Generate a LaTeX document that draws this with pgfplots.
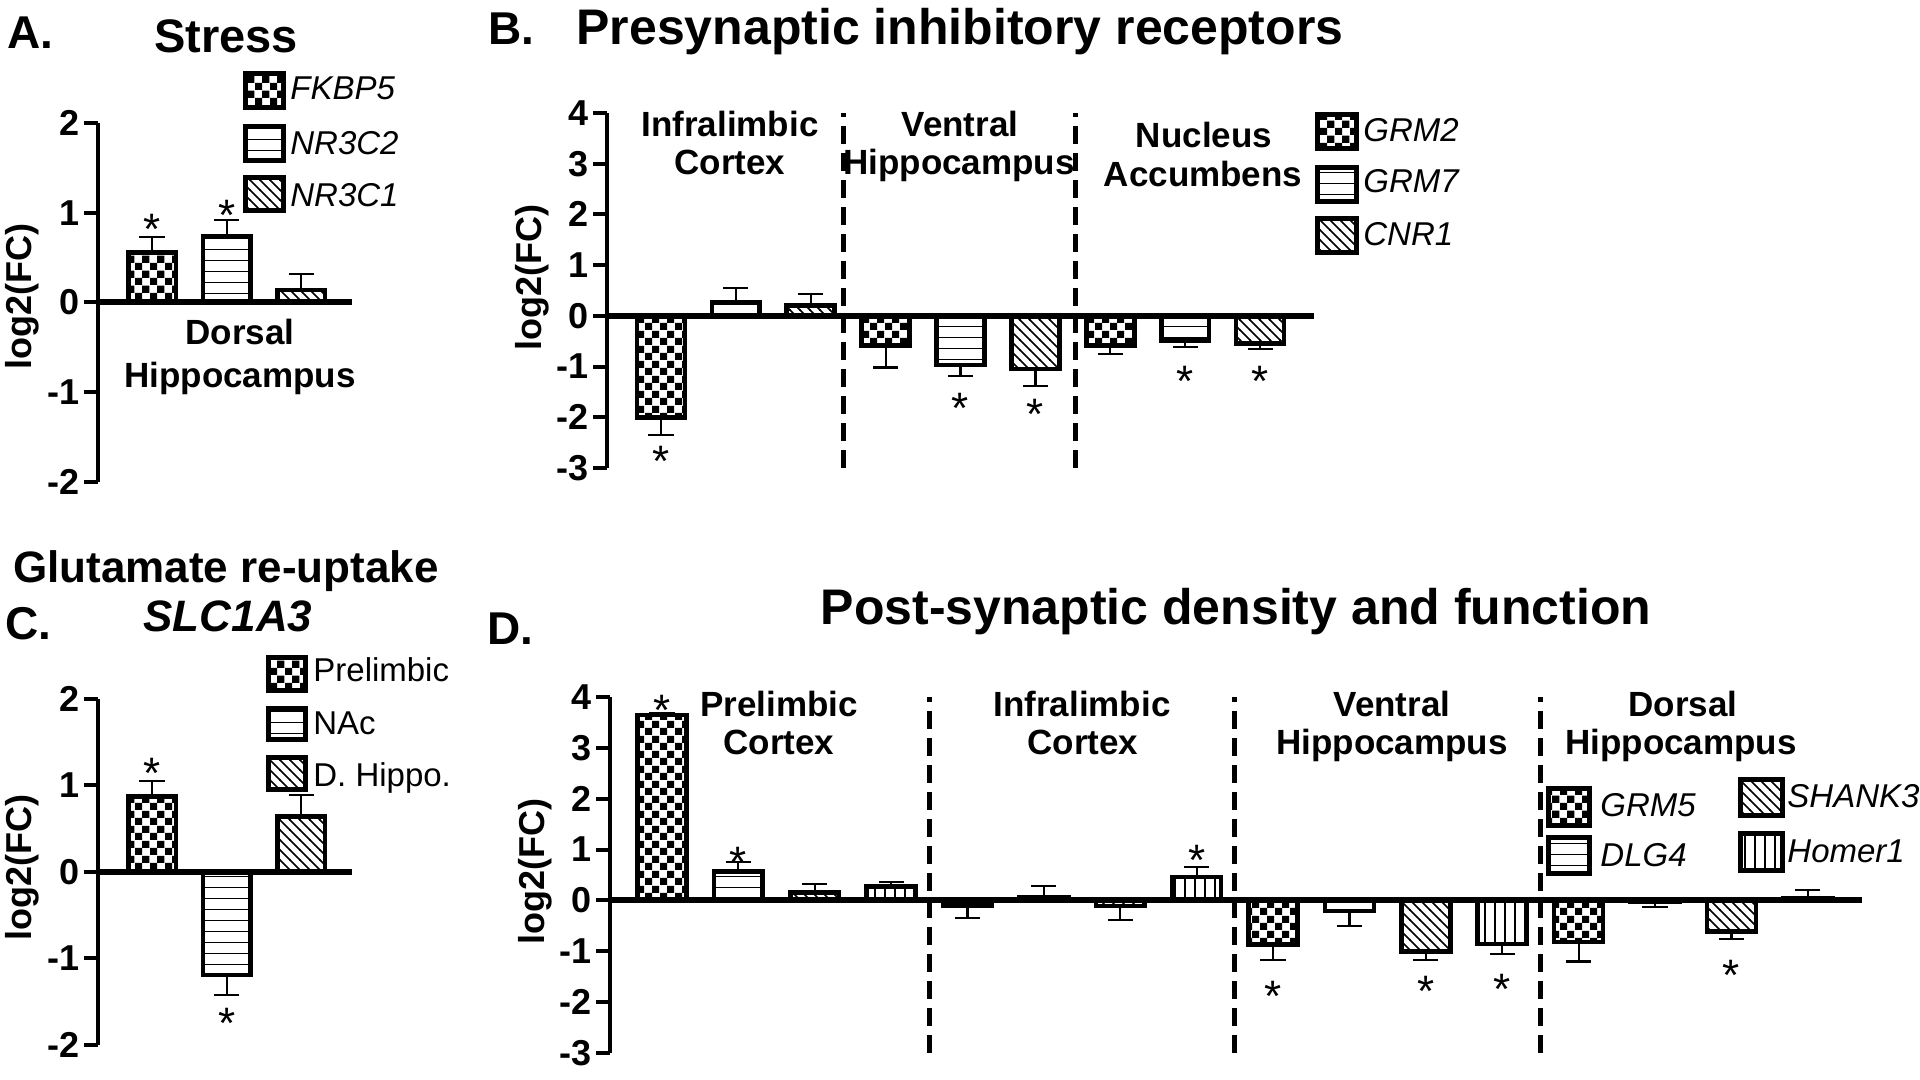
\documentclass[border=0pt]{standalone}
\usepackage{fontspec}
\setmainfont{Liberation Sans}
\usepackage{pgfplots}
\pgfplotsset{compat=1.18}
\usetikzlibrary{patterns}
\newcommand\fs[1]{\fontsize{#1}{#1}\selectfont}

\pgfdeclarepatternformonly{chk}{\pgfqpoint{0pt}{0pt}}{\pgfqpoint{7.5pt}{7.5pt}}{\pgfqpoint{7.5pt}{7.5pt}}{%
  \pgfpathrectangle{\pgfqpoint{0pt}{0pt}}{\pgfqpoint{3.75pt}{3.75pt}}%
  \pgfpathrectangle{\pgfqpoint{3.75pt}{3.75pt}}{\pgfqpoint{3.75pt}{3.75pt}}%
  \pgfusepath{fill}}
\pgfdeclarepatternformonly{hln}{\pgfqpoint{-1pt}{0pt}}{\pgfqpoint{6pt}{5.5pt}}{\pgfqpoint{5pt}{5.5pt}}{%
  \pgfsetlinewidth{0.8pt}%
  \pgfpathmoveto{\pgfqpoint{-1pt}{2.75pt}}\pgfpathlineto{\pgfqpoint{6pt}{2.75pt}}\pgfusepath{stroke}}
\pgfdeclarepatternformonly{vln}{\pgfqpoint{0pt}{-1pt}}{\pgfqpoint{5pt}{6pt}}{\pgfqpoint{5pt}{5pt}}{%
  \pgfsetlinewidth{0.8pt}%
  \pgfpathmoveto{\pgfqpoint{2.5pt}{-1pt}}\pgfpathlineto{\pgfqpoint{2.5pt}{6pt}}\pgfusepath{stroke}}
\pgfdeclarepatternformonly{dln}{\pgfqpoint{-1pt}{-1pt}}{\pgfqpoint{6pt}{6pt}}{\pgfqpoint{5pt}{5pt}}{%
  \pgfsetlinewidth{0.8pt}%
  \pgfpathmoveto{\pgfqpoint{-0.2pt}{5.2pt}}\pgfpathlineto{\pgfqpoint{5.2pt}{-0.2pt}}\pgfusepath{stroke}}

\pgfplotsset{
  panel/.style={scale only axis, anchor=south west,
    axis x line*=middle, axis y line*=left, xtick=\empty,
    axis line style={black},
    every inner x axis line/.append style={line width=3pt},
    every outer y axis line/.append style={line width=2.2pt},
    every major tick/.append style={line width=2pt, black},
    major tick length=7pt, tick align=outside,
    yticklabel style={font=\bfseries\fs{18}, inner sep=2pt},
    clip=false},
  gbar/.style={ybar, bar width=0.64, bar shift=0pt, draw=black, line width=2.3pt,
    error bars/y dir=both, error bars/y explicit,
    error bars/error bar style={line width=1.1pt, black, solid},
    error bars/error mark options={line width=1.1pt, mark size=6.3pt, black, rotate=90}},
  sep/.style={black, line width=2.5pt, dash pattern=on 9pt off 4.5pt}
}
\tikzset{star/.style={font=\fs{22}, anchor=north, inner sep=0pt},
  sw/.style={line width=2.6pt, draw=black}}

\begin{document}
\begin{tikzpicture}
\path[use as bounding box] (0pt,0pt) rectangle (960pt,540pt);

% ---------------- Panel A ----------------
\begin{axis}[panel, at={(49pt,299pt)}, width=127pt, height=179.5pt,
  xmin=0.275, xmax=3.68, ymin=-2, ymax=2,
  ytick={-2,-1,0,1,2}, yticklabels={-2,-1,0,1,2}]
\addplot[pattern=chk, gbar] table[x=x,y=y,y error plus=ep,y error minus=em]{
x y ep em
1 0.56 0.17 0
};
\addplot[pattern=hln, gbar] table[x=x,y=y,y error plus=ep,y error minus=em]{
x y ep em
2 0.74 0.18 0
};
\addplot[pattern=dln, gbar] table[x=x,y=y,y error plus=ep,y error minus=em]{
x y ep em
3 0.14 0.18 0
};
\node[star] at (axis cs:1,0.99) {*};
\node[star] at (axis cs:2,1.14) {*};
\end{axis}

% ---------------- Panel B ----------------
\begin{axis}[panel, at={(303.5pt,306pt)}, width=353.5pt, height=177.5pt,
  xmin=0.28, xmax=9.72, ymin=-3, ymax=4,
  ytick={-3,-2,-1,0,1,2,3,4}, yticklabels={-3,-2,-1,0,1,2,3,4}]
\addplot[sep] coordinates {(3.44,-3) (3.44,4)};
\addplot[sep] coordinates {(6.54,-3) (6.54,4)};
\addplot[pattern=chk, gbar] table[x=x,y=y,y error plus=ep,y error minus=em]{
x y ep em
1 -2.00 0 0.35
4 -0.59 0 0.43
7 -0.58 0 0.17
};
\addplot[pattern=hln, gbar] table[x=x,y=y,y error plus=ep,y error minus=em]{
x y ep em
2 0.26 0.29 0
5 -0.97 0 0.21
8 -0.49 0 0.13
};
\addplot[pattern=dln, gbar] table[x=x,y=y,y error plus=ep,y error minus=em]{
x y ep em
3 0.20 0.23 0
6 -1.05 0 0.33
9 -0.55 0 0.10
};
\node[star] at (axis cs:1,-2.56) {*};
\node[star] at (axis cs:5,-1.52) {*};
\node[star] at (axis cs:6,-1.64) {*};
\node[star] at (axis cs:8,-0.99) {*};
\node[star] at (axis cs:9,-0.99) {*};
\end{axis}

% ---------------- Panel C ----------------
\begin{axis}[panel, at={(49pt,17.5pt)}, width=127pt, height=173pt,
  xmin=0.275, xmax=3.68, ymin=-2, ymax=2,
  ytick={-2,-1,0,1,2}, yticklabels={-2,-1,0,1,2}]
\addplot[pattern=chk, gbar] table[x=x,y=y,y error plus=ep,y error minus=em]{
x y ep em
1 0.87 0.18 0
};
\addplot[pattern=hln, gbar] table[x=x,y=y,y error plus=ep,y error minus=em]{
x y ep em
2 -1.19 0 0.23
};
\addplot[pattern=dln, gbar] table[x=x,y=y,y error plus=ep,y error minus=em]{
x y ep em
3 0.64 0.25 0
};
\node[star] at (axis cs:1,1.32) {*};
\node[star] at (axis cs:2,-1.57) {*};
\end{axis}

% ---------------- Panel D ----------------
\begin{axis}[panel, at={(305pt,13.5pt)}, width=626pt, height=178pt,
  xmin=0.32, xmax=16.71, ymin=-3, ymax=4,
  ytick={-3,-2,-1,0,1,2,3,4}, yticklabels={-3,-2,-1,0,1,2,3,4}]
\addplot[sep] coordinates {(4.5,-3) (4.5,4)};
\addplot[sep] coordinates {(8.5,-3) (8.5,4)};
\addplot[sep] coordinates {(12.5,-3) (12.5,4)};
\addplot[pattern=chk, gbar] table[x=x,y=y,y error plus=ep,y error minus=em]{
x y ep em
1 3.65 0.04 0
5 -0.10 0 0.25
9 -0.87 0 0.30
13 -0.82 0 0.38
};
\addplot[pattern=hln, gbar] table[x=x,y=y,y error plus=ep,y error minus=em]{
x y ep em
2 0.57 0.18 0
6 0.06 0.23 0
10 -0.21 0 0.29
14 -0.02 0 0.11
};
\addplot[pattern=dln, gbar] table[x=x,y=y,y error plus=ep,y error minus=em]{
x y ep em
3 0.16 0.17 0
7 -0.11 0 0.27
11 -1.00 0 0.17
15 -0.61 0 0.15
};
\addplot[pattern=vln, gbar] table[x=x,y=y,y error plus=ep,y error minus=em]{
x y ep em
4 0.27 0.10 0
8 0.46 0.19 0
12 -0.86 0 0.19
16 0.05 0.16 0
};
\node[star] at (axis cs:1,4.04) {*};
\node[star] at (axis cs:2,1.06) {*};
\node[star] at (axis cs:8,1.10) {*};
\node[star] at (axis cs:9,-1.59) {*};
\node[star] at (axis cs:11,-1.49) {*};
\node[star] at (axis cs:12,-1.45) {*};
\node[star] at (axis cs:15,-1.16) {*};
\end{axis}

% ---------------- Texts ----------------
\begin{scope}[every node/.style={inner sep=0pt}]
\node[anchor=base west, font=\bfseries\fs{23}] at (3.5pt,515.5pt) {A.};
\node[anchor=base west, font=\bfseries\fs{23}] at (244pt,517.5pt) {B.};
\node[anchor=base west, font=\bfseries\fs{23}] at (2.5pt,220pt) {C.};
\node[anchor=base west, font=\bfseries\fs{23}] at (243.5pt,217.5pt) {D.};

\node[anchor=base, font=\bfseries\fs{23.5}] at (113pt,513.5pt) {Stress};
\node[anchor=base, font=\bfseries\fs{25}] at (480pt,517.5pt) {Presynaptic inhibitory receptors};
\node[anchor=base, font=\bfseries\fs{22}] at (113pt,248.5pt) {Glutamate re-uptake};
\node[anchor=base, font=\bfseries\itshape\fs{22}] at (114pt,224pt) {SLC1A3};
\node[anchor=base, font=\bfseries\fs{25}] at (618pt,227.5pt) {Post-synaptic density and function};

% y labels
\node[rotate=90, font=\bfseries\fs{18}] at (11pt,391.5pt) {log2(FC)};
\node[rotate=90, font=\bfseries\fs{18}] at (266pt,401pt) {log2(FC)};
\node[rotate=90, font=\bfseries\fs{18}] at (11pt,106pt) {log2(FC)};
\node[rotate=90, font=\bfseries\fs{18}] at (267.5pt,104pt) {log2(FC)};

% region labels
\begin{scope}[every node/.append style={anchor=base, font=\bfseries\fs{17.5}}]
\node at (120pt,367.5pt) {Dorsal};
\node at (120pt,346pt) {Hippocampus};
\node at (365pt,471.5pt) {Infralimbic};
\node at (365pt,452.5pt) {Cortex};
\node at (480pt,471.5pt) {Ventral};
\node at (479.5pt,452.5pt) {Hippocampus};
\node at (602pt,466pt) {Nucleus};
\node at (601.5pt,446.5pt) {Accumbens};
\node at (389.5pt,181.5pt) {Prelimbic};
\node at (389.5pt,162.5pt) {Cortex};
\node at (541pt,181.5pt) {Infralimbic};
\node at (541.5pt,162.5pt) {Cortex};
\node at (696pt,181.5pt) {Ventral};
\node at (696pt,162.5pt) {Hippocampus};
\node at (841.5pt,181.5pt) {Dorsal};
\node at (840.5pt,162.5pt) {Hippocampus};
\end{scope}

% legends
\begin{scope}[every node/.append style={anchor=base west, font=\itshape\fs{16.5}}]
% A
\draw[sw, pattern=chk] (122.75pt,486.25pt) rectangle (141.75pt,503.25pt);
\draw[sw, pattern=hln] (122.75pt,459.75pt) rectangle (141.75pt,476.75pt);
\draw[sw, pattern=dln] (122.75pt,434.75pt) rectangle (141.75pt,451.25pt);
\node at (145pt,490pt) {FKBP5};
\node at (145pt,462.5pt) {NR3C2};
\node at (145pt,436.5pt) {NR3C1};
% B
\draw[sw, pattern=chk] (658.75pt,465.75pt) rectangle (678.25pt,482.75pt);
\draw[sw, pattern=hln] (658.75pt,439.25pt) rectangle (678.25pt,456.25pt);
\draw[sw, pattern=dln] (658.75pt,413.75pt) rectangle (678.25pt,430.75pt);
\node at (681.5pt,469pt) {GRM2};
\node at (681.5pt,443.5pt) {GRM7};
\node at (681.5pt,417pt) {CNR1};
% D
\draw[sw, pattern=chk] (774.25pt,127.25pt) rectangle (794.75pt,145.75pt);
\draw[sw, pattern=hln] (774.25pt,103.25pt) rectangle (794.75pt,121.25pt);
\draw[sw, pattern=dln] (870.25pt,132.25pt) rectangle (891.25pt,150.25pt);
\draw[sw, pattern=vln] (870.25pt,104.75pt) rectangle (891.25pt,123.25pt);
\node at (800pt,131.5pt) {GRM5};
\node at (800pt,106.5pt) {DLG4};
\node at (893.5pt,136pt) {SHANK3};
\node at (893.5pt,108.5pt) {Homer1};
\end{scope}
\begin{scope}[every node/.append style={anchor=base west, font=\fs{16.5}}]
% C
\draw[sw, pattern=chk] (134.25pt,194.75pt) rectangle (152.75pt,211.25pt);
\draw[sw, pattern=hln] (134.25pt,170.25pt) rectangle (152.75pt,185.75pt);
\draw[sw, pattern=dln] (134.25pt,145.25pt) rectangle (152.75pt,161.25pt);
\node at (156.5pt,199pt) {Prelimbic};
\node at (156.5pt,172.5pt) {NAc};
\node at (156.5pt,146.5pt) {D. Hippo.};
\end{scope}
\end{scope}
\end{tikzpicture}
\end{document}
